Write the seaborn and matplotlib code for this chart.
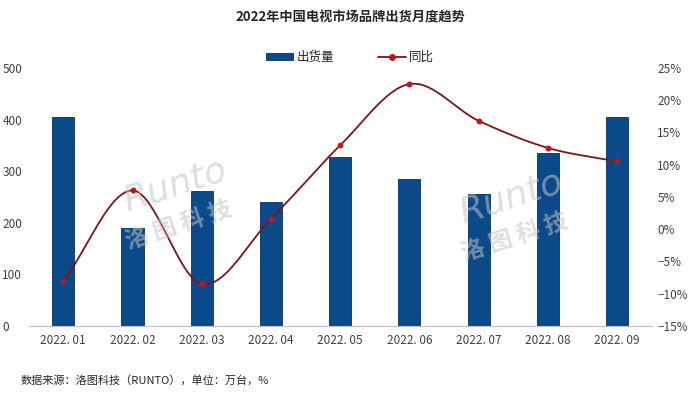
import numpy as np
import pandas as pd
import matplotlib
matplotlib.use("Agg")
import matplotlib.pyplot as plt
import seaborn as sns
from matplotlib.patches import Patch
from matplotlib.lines import Line2D

# ── data ───────────────────────────────────────────────
months = ["2022.01", "2022.02", "2022.03", "2022.04", "2022.05",
          "2022.06", "2022.07", "2022.08", "2022.09"]
shipments = [404, 190, 261, 240, 328, 285, 255, 335, 404]   # 万台
yoy = [-8.1, 6.0, -8.5, 1.6, 13.0, 22.5, 16.8, 12.6, 10.5]  # %

sns.set_theme(style="white")
plt.rcParams['font.family'] = ['Noto Sans CJK SC', 'DejaVu Sans']

bar_color = "#0b4a8a"
line_color = "#7f1416"
dot_color = "#c0161b"
tick_color = "#404040"


def catmull_rom(x, y, n=24):
    # smooth curve like Excel's "smoothed line"
    x = np.asarray(x, float)
    y = np.asarray(y, float)
    px = np.concatenate([[2 * x[0] - x[1]], x, [2 * x[-1] - x[-2]]])
    py = np.concatenate([[2 * y[0] - y[1]], y, [2 * y[-1] - y[-2]]])
    xs, ys = [], []
    for i in range(1, len(px) - 2):
        t = np.linspace(0, 1, n, endpoint=False)
        for p, out in ((px, xs), (py, ys)):
            p0, p1, p2, p3 = p[i - 1], p[i], p[i + 1], p[i + 2]
            out.extend(0.5 * ((2 * p1) + (-p0 + p2) * t
                              + (2 * p0 - 5 * p1 + 4 * p2 - p3) * t ** 2
                              + (-p0 + 3 * p1 - 3 * p2 + p3) * t ** 3))
    xs.append(x[-1])
    ys.append(y[-1])
    return np.array(xs), np.array(ys)


df = pd.DataFrame({"month": months, "shipments": shipments, "yoy": yoy})

fig = plt.figure(figsize=(7, 3.95), dpi=100)
ax = fig.add_axes([0.041, 0.175, 0.890, 0.653])

sns.barplot(data=df, x="month", y="shipments", color=bar_color,
            width=0.32, saturation=1, edgecolor="#0a2f5a", linewidth=0.6, ax=ax)
ax.set_ylim(0, 500)
ax.set_yticks(range(0, 501, 100))
ax.set_xlim(-0.5, len(months) - 0.5)
ax.set_xlabel("")
ax.set_ylabel("")
ax.set_xticks(range(len(months)))
ax.set_xticklabels([m.replace(".", ". ") for m in months])
for s in ["top", "right", "left"]:
    ax.spines[s].set_visible(False)
ax.spines["bottom"].set_color("#bfbfbf")
ax.spines["bottom"].set_linewidth(0.8)
ax.tick_params(axis="x", labelsize=8.5, colors=tick_color, length=0, pad=6)
ax.tick_params(axis="y", labelsize=8.5, colors=tick_color, length=0, pad=19)
for lbl in ax.get_yticklabels():
    lbl.set_horizontalalignment("left")

ax2 = ax.twinx()
xi = np.arange(len(months))
sx, sy = catmull_rom(xi, yoy)
ax2.plot(sx, sy, color=line_color, lw=1.3, zorder=3)
sns.scatterplot(x=xi, y=yoy, color=dot_color, s=18, edgecolor=dot_color,
                linewidth=0, zorder=4, ax=ax2)
ax2.set_ylim(-15, 25)
ax2.set_yticks(range(-15, 26, 5))
ax2.set_yticklabels([f"{v}%".replace("-", "−") for v in range(-15, 26, 5)])
for s in ["top", "right", "left", "bottom"]:
    ax2.spines[s].set_visible(False)
ax2.tick_params(axis="y", labelsize=8.5, colors=tick_color, length=0, pad=4)
ax2.grid(False)
ax.grid(False)

# watermarks
for wx, wy in [(0.25, 0.50), (0.73, 0.47)]:
    fig.text(wx, wy + 0.03, "Runto", fontsize=26, color="#c4c4c4", alpha=0.55,
             rotation=18, ha="center", va="center", family="DejaVu Sans",
             fontstyle="italic")
    fig.text(wx + 0.005, wy - 0.07, "洛 图 科 技", fontsize=17, color="#c4c4c4",
             alpha=0.55, rotation=18, ha="center", va="center", fontweight="bold")

fig.text(0.5, 0.955, "2022年中国电视市场品牌出货月度趋势", ha="center", va="center",
         fontsize=9.5, fontweight="bold", color="#262626")

handles = [Patch(facecolor=bar_color, edgecolor="#0a2f5a", linewidth=0.6),
           Line2D([0], [0], color=line_color, lw=1.3, marker="o", markersize=4,
                  markerfacecolor=dot_color, markeredgecolor=dot_color)]
fig.legend(handles, ["出货量", "同比"], loc="center", bbox_to_anchor=(0.5, 0.855),
           ncol=2, frameon=False, fontsize=9, handlelength=2.2, handleheight=0.5,
           columnspacing=3.5, handletextpad=0.3, labelcolor="#262626")

fig.text(0.029, 0.038, "数据来源：洛图科技（RUNTO），单位：万台，%", ha="left", va="center",
         fontsize=8, color="#262626")

fig.savefig("out.png", dpi=100, facecolor="white")
